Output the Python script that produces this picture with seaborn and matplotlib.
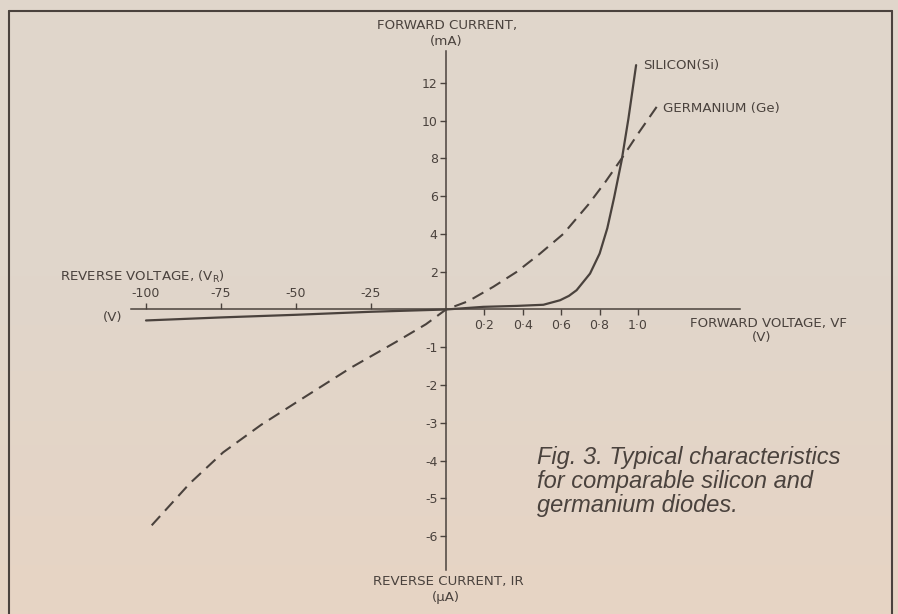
import numpy as np
import pandas as pd
import matplotlib
matplotlib.use('Agg')
import matplotlib.pyplot as plt
import seaborn as sns
from matplotlib.lines import Line2D

# reverse side: volts / microamps, forward side: volts / milliamps
si_volts = [-100, -75, -50, -25, 0, 0.194, 0.368, 0.507, 0.594, 0.64, 0.68, 0.75, 0.80, 0.84, 0.875, 0.915, 0.95, 0.99]
si_current = [-0.29, -0.21, -0.14, -0.06, 0, 0.14, 0.19, 0.25, 0.49, 0.72, 1.02, 1.9, 2.96, 4.3, 5.9, 7.9, 10.1, 12.93]

ge_volts = [-98.1, -85.4, -74.3, -61.6, -46.6, -31.7, -16.7, -6.7, 0,
            0.116, 0.246, 0.368, 0.49, 0.611, 0.741, 0.83, 0.915, 1.0, 1.097]
ge_current = [-5.71, -4.6, -3.78, -3.05, -2.29, -1.54, -0.86, -0.39, 0,
              0.44, 1.2, 1.99, 2.96, 4.0, 5.55, 6.75, 7.99, 9.3, 10.72]

x_ticks = [-100, -75, -50, -25, 0.2, 0.4, 0.6, 0.8, 1.0]
x_labels = ['-100', '-75', '-50', '-25', '0·2', '0·4', '0·6', '0·8', '1·0']
y_ticks = [-6, -5, -4, -3, -2, -1, 2, 4, 6, 8, 10, 12]
y_labels = ['-6', '-5', '-4', '-3', '-2', '-1', '2', '4', '6', '8', '10', '12']

ink = '#4a423d'
bg_top = '#e0d6cb'
bg_bottom = '#e7d4c4'

sns.set_theme(style='white')
plt.rcParams['font.family'] = ['DejaVu Sans']

W, H = 898, 614
fig = plt.figure(figsize=(W / 100, H / 100), dpi=100, facecolor=bg_top)

# paper tone, slightly warmer towards the bottom
bg_ax = fig.add_axes([0, 0, 1, 1], zorder=-1)
c0 = np.array(matplotlib.colors.to_rgb(bg_top))
c1 = np.array(matplotlib.colors.to_rgb(bg_bottom))
t = np.clip((np.linspace(0, 1, 200) - 0.45) / 0.55, 0, 1)[:, None]
grad = (c0 * (1 - t) + c1 * t)[:, None, :]
bg_ax.imshow(grad, aspect='auto', extent=(0, 1, 1, 0))
bg_ax.set_axis_off()

ax = fig.add_axes([0, 0, 1, 1])
ax.patch.set_visible(False)


# split scales: forward volts stretched 64x, reverse microamps drawn 2x
def fwd_x(v):
    v = np.asarray(v, dtype=float)
    return np.where(v < 0, v, v * 64.0)


def inv_x(u):
    u = np.asarray(u, dtype=float)
    return np.where(u < 0, u, u / 64.0)


def fwd_y(i):
    i = np.asarray(i, dtype=float)
    return np.where(i < 0, i * 2.0, i)


def inv_y(w):
    w = np.asarray(w, dtype=float)
    return np.where(w < 0, w / 2.0, w)


ax.set_xscale('function', functions=(fwd_x, inv_x))
ax.set_yscale('function', functions=(fwd_y, inv_y))

si = pd.DataFrame({'V': si_volts, 'I': si_current})
ge = pd.DataFrame({'V': ge_volts, 'I': ge_current})

sns.lineplot(data=si, x='V', y='I', ax=ax, color=ink, lw=1.6, sort=False, estimator=None)
sns.lineplot(data=ge, x='V', y='I', ax=ax, color=ink, lw=1.5, sort=False, estimator=None)
ax.lines[-1].set_dashes((6, 3.5))

ax.set_xlim(-148.67, 2.354)
ax.set_ylim(-8.056, 16.376)
ax.set_xlabel('')
ax.set_ylabel('')

# axes through the origin
for side in ['bottom', 'top', 'left', 'right']:
    ax.spines[side].set_position(('data', 0))
ax.spines['top'].set_visible(False)
ax.spines['right'].set_visible(False)
ax.spines['bottom'].set_bounds(-105, 1.53)
ax.spines['left'].set_bounds(-6.9, 13.7)
for side in ['bottom', 'left']:
    ax.spines[side].set_color(ink)
    ax.spines[side].set_linewidth(1.1)

ax.set_xticks(x_ticks)
ax.set_xticklabels(x_labels)
ax.set_yticks(y_ticks)
ax.set_yticklabels(y_labels)
ax.tick_params(axis='x', bottom=True, top=True, labelbottom=True, labeltop=True,
               direction='out', length=4, width=1, pad=2.5, colors=ink, labelsize=9)
ax.tick_params(axis='y', left=True, right=False, direction='out', length=4, width=1,
               pad=2, colors=ink, labelsize=9)
for v, tick in zip(x_ticks, ax.xaxis.get_major_ticks()):
    tick.label1.set_visible(v > 0)
    tick.tick1line.set_visible(v > 0)
    tick.label2.set_visible(v < 0)
    tick.tick2line.set_visible(v < 0)

# curve names at the line ends
ax.annotate('SILICON(Si)', xy=(si_volts[-1], si_current[-1]), xytext=(5, 0),
            textcoords='offset points', va='center', ha='left', fontsize=9.6, color=ink)
ax.annotate('GERMANIUM (Ge)', xy=(ge_volts[-1], ge_current[-1]), xytext=(4.5, -1),
            textcoords='offset points', va='center', ha='left', fontsize=9.6, color=ink)


def px(x, y):
    return x / W, 1 - y / H


labels = [
    ('FORWARD CURRENT,', 377, 25),
    ('(mA)', 430, 42),
    (r'REVERSE VOLTAGE, ($\mathregular{V_R}$)', 60, 277),
    ('(V)', 103, 317),
    ('FORWARD VOLTAGE, VF', 690, 323),
    ('(V)', 752, 338),
    ('REVERSE CURRENT, IR', 373, 581),
    ('(µA)', 432, 598),
]
for txt, x, y in labels:
    fig.text(*px(x, y), txt, ha='left', va='center', fontsize=9.6, color=ink)

fig.text(*px(537, 446), 'Fig. 3. Typical characteristics\nfor comparable silicon and\ngermanium diodes.',
         ha='left', va='top', fontsize=17, style='italic', color=ink, linespacing=1.06,
         family=['Liberation Sans', 'DejaVu Sans'])

# page frame
for xs, ys in [((9, 9), (11, 614)), ((9, 892), (11, 11)), ((892, 892), (11, 614))]:
    fig.add_artist(Line2D([x / W for x in xs], [1 - y / H for y in ys], color=ink, lw=1.5,
                          transform=fig.transFigure))

fig.savefig('out.png', dpi=100, facecolor=bg_top)
